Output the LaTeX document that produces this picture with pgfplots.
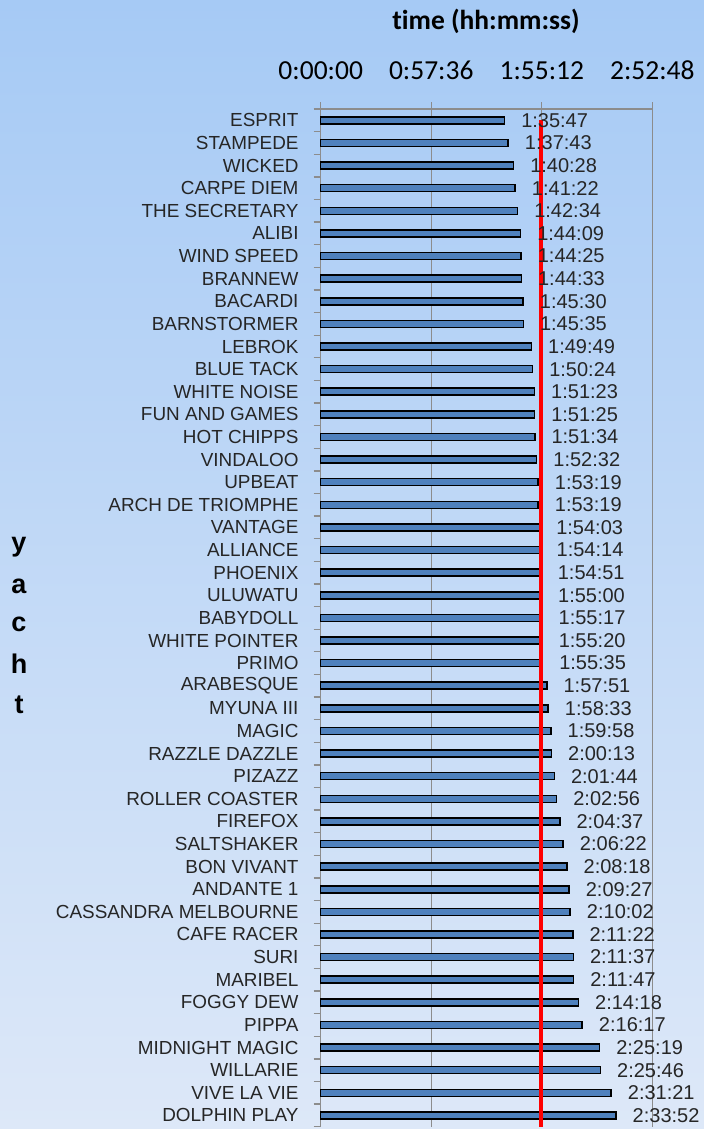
\documentclass[border=0pt]{standalone}
\usepackage{pgfplots}
\pgfplotsset{compat=1.18}
\usepackage{pgfplotstable}
\usepackage{fontspec}
\setmainfont{Liberation Sans}
\newfontfamily\calibri[Ligatures=NoCommon]{Carlito}
\definecolor{bgtop}{RGB}{166,202,245}
\definecolor{bgbot}{RGB}{221,232,248}
\definecolor{barblue}{RGB}{79,129,189}
\definecolor{gridgray}{RGB}{140,140,140}

\pgfplotstableread{
idx secs lbl
0 5747 1:35:47
1 5863 1:37:43
2 6028 1:40:28
3 6082 1:41:22
4 6154 1:42:34
5 6249 1:44:09
6 6265 1:44:25
7 6273 1:44:33
8 6330 1:45:30
9 6335 1:45:35
10 6589 1:49:49
11 6624 1:50:24
12 6683 1:51:23
13 6685 1:51:25
14 6694 1:51:34
15 6752 1:52:32
16 6799 1:53:19
17 6799 1:53:19
18 6843 1:54:03
19 6854 1:54:14
20 6891 1:54:51
21 6900 1:55:00
22 6917 1:55:17
23 6920 1:55:20
24 6935 1:55:35
25 7071 1:57:51
26 7113 1:58:33
27 7198 1:59:58
28 7213 2:00:13
29 7304 2:01:44
30 7376 2:02:56
31 7477 2:04:37
32 7582 2:06:22
33 7698 2:08:18
34 7767 2:09:27
35 7802 2:10:02
36 7882 2:11:22
37 7897 2:11:37
38 7907 2:11:47
39 8058 2:14:18
40 8177 2:16:17
41 8719 2:25:19
42 8746 2:25:46
43 9081 2:31:21
44 9232 2:33:52
}\yachtdata

\begin{document}
\begin{tikzpicture}[x=1bp,y=1bp]
\useasboundingbox (0,0) rectangle (704,1129);
\shade[top color=bgtop,bottom color=bgbot] (0,0) rectangle (704,1129);
\node[font=\calibri\bfseries\fontsize{27.5bp}{30bp}\selectfont] at (486,1108) {time (hh:mm:ss)};
\node[anchor=base, inner sep=0pt, font=\bfseries\fontsize{27bp}{27bp}\selectfont] at (19,577) {y};
\node[anchor=base, inner sep=0pt, font=\bfseries\fontsize{27bp}{27bp}\selectfont] at (19,535.7) {a};
\node[anchor=base, inner sep=0pt, font=\bfseries\fontsize{27bp}{27bp}\selectfont] at (19,497.3) {c};
\node[anchor=base, inner sep=0pt, font=\bfseries\fontsize{27bp}{27bp}\selectfont] at (19,455.7) {h};
\node[anchor=base, inner sep=0pt, font=\bfseries\fontsize{27bp}{27bp}\selectfont] at (19,415.7) {t};
\begin{axis}[
  at={(320.7bp,2.3bp)}, anchor=south west, scale only axis,
  width=331.6bp, height=1017.7bp,
  xmin=0, xmax=10368, ymin=-0.5, ymax=44.5, y dir=reverse,
  axis x line*=top, axis y line*=left,
  axis line style={gridgray, line width=1.3bp},
  xtick={0,3456,6912,10368},
  scaled x ticks=false,
  xticklabels={0:00:00,0:57:36,1:55:12,2:52:48},
  xticklabel style={font=\calibri\fontsize{27.5bp}{27.5bp}\selectfont, anchor=base, inner sep=0pt, yshift=23bp},
  xmajorgrids, grid style={gridgray, line width=1.4bp},
  tick style={gridgray, line width=1.3bp},
  major tick length=7bp, minor tick length=7bp,
  tick align=outside,
  ytick={0,...,44},
  yticklabels={ESPRIT,STAMPEDE,WICKED,CARPE DIEM,THE SECRETARY,ALIBI,WIND SPEED,BRANNEW,BACARDI,BARNSTORMER,LEBROK,BLUE TACK,WHITE NOISE,FUN AND GAMES,HOT CHIPPS,VINDALOO,UPBEAT,ARCH DE TRIOMPHE,VANTAGE,ALLIANCE,PHOENIX,ULUWATU,BABYDOLL,WHITE POINTER,PRIMO,ARABESQUE,MYUNA III,MAGIC,RAZZLE DAZZLE,PIZAZZ,ROLLER COASTER,FIREFOX,SALTSHAKER,BON VIVANT,ANDANTE 1,CASSANDRA MELBOURNE,CAFE RACER,SURI,MARIBEL,FOGGY DEW,PIPPA,MIDNIGHT MAGIC,WILLARIE,VIVE LA VIE,DOLPHIN PLAY},
  yticklabel style={font=\fontsize{18.9bp}{18.9bp}\selectfont, anchor=east, inner sep=0pt, xshift=-15bp, text=black!85},
  minor ytick={-0.5,0.5,...,44.5},
  every major y tick/.append style={draw=none},
  bar width=7bp,
  clip=false,
]
\addplot[xbar, fill=barblue, draw=black, line width=1.5bp,
  nodes near coords, point meta=explicit symbolic,
  every node near coord/.append style={anchor=west, inner sep=0pt, xshift=16bp,
    font=\fontsize{20bp}{20bp}\selectfont, text=black!85}]
  table[x=secs, y=idx, meta=lbl] {\yachtdata};
\addplot[red, line width=3.5bp, forget plot] coordinates {(6880,0) (6880,44.5)};
\end{axis}
\end{tikzpicture}
\end{document}
